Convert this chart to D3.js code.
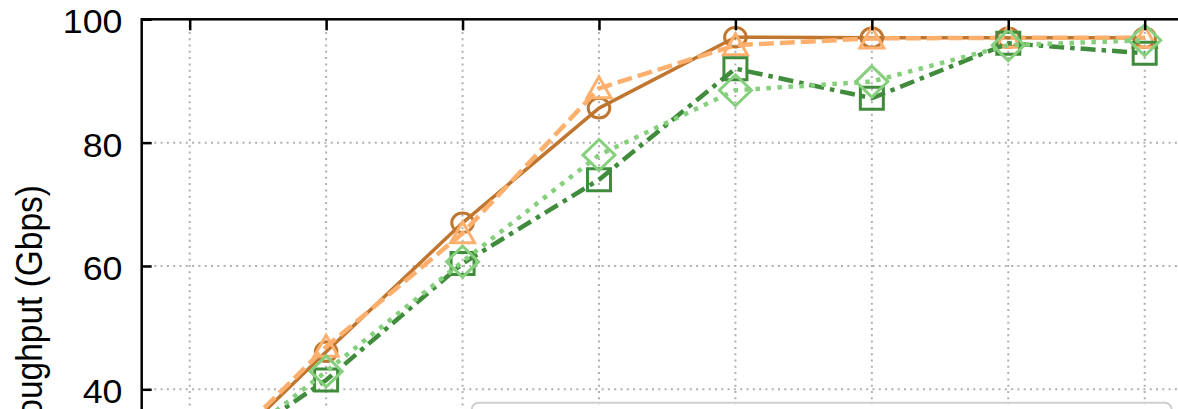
<!DOCTYPE html>
<html>
<head>
<meta charset="utf-8">
<script src="https://cdn.jsdelivr.net/npm/d3@7"></script>
<style>
  html, body { margin: 0; padding: 0; background: #fff; overflow: hidden; }
  svg { display: block; }
  text { font-family: "Liberation Sans", Arial, Helvetica, sans-serif; fill: #000; }
</style>
</head>
<body>
<svg id="chart" width="1178" height="409"></svg>
<script>
// x positions (one per measurement step)
const steps = [0, 1, 2, 3, 4, 5, 6, 7];

// throughput in Gbps for each configuration
const solidCircle   = [24.7, 46.1, 67.0, 85.6, 97.1, 97.0, 97.0, 97.0];
const dashedTri     = [25.0, 46.9, 65.3, 88.8, 95.8, 96.9, 97.0, 97.0];
const dashDotSquare = [26.5, 41.5, 60.4, 74.0, 92.0, 87.2, 96.1, 94.5];
const dottedDiamond = [25.5, 42.9, 60.7, 78.0, 88.5, 89.9, 95.8, 96.6];

// y axis ticks
const yTicks = [0, 20, 40, 60, 80, 100];
const yTickLabels = ["0", "20", "40", "60", "80", "100"];

const yLabel = "Throughput (Gbps)";

const margin = { left: 141.7, top: 19.3 };
const W = 1051, H = 616.7;

const svg = d3.select("#chart");
const g = svg.append("g").attr("transform", `translate(${margin.left},${margin.top})`);

const x = d3.scaleLinear().domain([0, 7]).range([48, 1003]);
const y = d3.scaleLinear().domain([0, 100]).range([H, 0]);

// grid
const gridStyle = sel => sel.attr("stroke", "#b0b0b0").attr("stroke-width", 2)
  .attr("stroke-dasharray", "2,4.3").attr("fill", "none");
g.append("g").selectAll("line").data(yTicks.filter(v => v > 0 && v < 100)).join("line")
  .attr("x1", 0).attr("x2", W).attr("y1", d => y(d)).attr("y2", d => y(d)).call(gridStyle);
g.append("g").selectAll("line").data(steps).join("line")
  .attr("x1", d => x(d)).attr("x2", d => x(d)).attr("y1", 0).attr("y2", H).call(gridStyle);

// series
const series = [
  { values: solidCircle,   color: "#c0762f", width: 3.5, dash: null,          marker: "circle" },
  { values: dashedTri,     color: "#fdb06e", width: 4.5, dash: "15,6",        marker: "triangle" },
  { values: dashDotSquare, color: "#418c3c", width: 4.5, dash: "15,6,4.5,6",  marker: "square" },
  { values: dottedDiamond, color: "#86d07d", width: 4.5, dash: "4.5,6.5",     marker: "diamond" }
];

const line = d3.line().x((d, i) => x(steps[i])).y(d => y(d));

function markerPath(type) {
  switch (type) {
    case "triangle": return "M0,-11.5L12,9.5L-12,9.5Z";
    case "square":   return "M-11.5,-11L11.5,-11L11.5,11L-11.5,11Z";
    case "diamond":  return "M0,-15.5L16,0L0,15.5L-16,0Z";
    default:         return null;
  }
}

series.forEach(s => {
  const sg = g.append("g");
  sg.append("path").datum(s.values)
    .attr("d", line)
    .attr("fill", "none")
    .attr("stroke", s.color)
    .attr("stroke-width", s.width)
    .attr("stroke-dasharray", s.dash)
    .attr("stroke-linejoin", "round");
  const pts = sg.selectAll(".pt").data(s.values).join("g")
    .attr("transform", (d, i) => `translate(${x(steps[i])},${y(d)})`);
  if (s.marker === "circle") {
    pts.append("ellipse").attr("rx", 10.8).attr("ry", 9.8)
      .attr("fill", "none").attr("stroke", s.color).attr("stroke-width", 3);
  } else {
    pts.append("path").attr("d", markerPath(s.marker))
      .attr("fill", "none").attr("stroke", s.color).attr("stroke-width", 3)
      .attr("stroke-linejoin", "miter");
  }
});

// axes
const yAxis = g.append("g")
  .call(d3.axisLeft(y).tickValues(yTicks).tickSize(-10).tickPadding(0)
    .tickFormat((d, i) => yTickLabels[i]));
yAxis.select(".domain").remove();
yAxis.selectAll(".tick line").attr("stroke", "#000").attr("stroke-width", 2.5);
yAxis.selectAll(".tick text")
  .attr("x", 0).attr("dy", null)
  .attr("dominant-baseline", "central")
  .attr("text-anchor", "end")
  .attr("font-size", 32.5)
  .attr("transform", "translate(-19.2,2) scale(1.1,1)");

const xTop = g.append("g")
  .call(d3.axisTop(x).tickValues(steps).tickSize(-11).tickFormat(""));
xTop.select(".domain").remove();
xTop.selectAll(".tick line").attr("stroke", "#000").attr("stroke-width", 2.5);

// frame
g.append("rect").attr("x", 0).attr("y", 0).attr("width", W).attr("height", H)
  .attr("fill", "none").attr("stroke", "#000").attr("stroke-width", 2.5);

// legend frame
g.append("rect")
  .attr("x", 471.7 - margin.left).attr("y", 402.7 - margin.top)
  .attr("width", 700).attr("height", 160).attr("rx", 7)
  .attr("fill", "#fff").attr("fill-opacity", 0.8)
  .attr("stroke", "#cfcfcf").attr("stroke-width", 2);

// y label, read bottom to top
svg.append("text")
  .attr("transform", `translate(41.7,185) scale(1.1,1) rotate(-90)`)
  .attr("text-anchor", "end")
  .attr("font-size", 33.5)
  .text(yLabel);
</script>
</body>
</html>
